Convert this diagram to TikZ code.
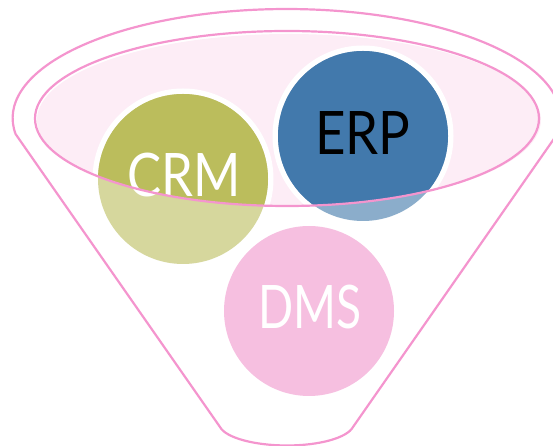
\documentclass[tikz,border=0pt]{standalone}
\usepackage{fontspec}
\setmainfont{Lato}
\definecolor{funnelline}{HTML}{F495CE}
\definecolor{funnelfill}{HTML}{FDEDF6}
\definecolor{crmdark}{HTML}{BBBD5C}
\definecolor{crmlight}{HTML}{D6D79D}
\definecolor{erpdark}{HTML}{4279AC}
\definecolor{erplight}{HTML}{8BADCB}
\definecolor{dmsfill}{HTML}{F6BFE0}
\tikzset{
  funnelstroke/.style={draw=funnelline,line width=2.2pt,line join=round},
  disc/.style={circle,inner sep=0pt,minimum size=170pt},
  halo/.style={circle,inner sep=0pt,minimum size=181pt,fill=white},
  lab/.style={anchor=base,inner sep=0pt,font=\fontsize{60}{60}\selectfont},
}
\begin{document}
\begin{tikzpicture}[x=1pt,y=1pt]
\useasboundingbox (0,0) rectangle (553,446);
\clip (0,0) rectangle (553,446);
% funnel body
\draw[funnelstroke] (353,19) -- (558,313)
  arc[start angle=-7.9,end angle=188.5,x radius=274pt,y radius=109pt]
  -- (220,19) .. controls (226,8) and (255,0.5) .. (287,0.5)
  .. controls (319,0.5) and (347,8) .. (353,19);
% funnel mouth fill
\fill[funnelfill] (289,326) ellipse [x radius=252pt,y radius=86pt];
% halos
\node[halo] at (183,267) {};
\node[halo] at (363,310) {};
% discs
\node[disc,fill=crmlight] (crmdisc) at (183,267) {};
\node[disc,fill=erplight] (erpdisc) at (363,310) {};
\node[disc,fill=dmsfill] (dmsdisc) at (309,135) {};
\begin{scope}
\clip (287,327.5) ellipse [x radius=252pt,y radius=87.5pt];
\fill[crmdark] (183,267) circle [radius=85pt];
\fill[erpdark] (363,310) circle [radius=85pt];
\end{scope}
% labels
\node[lab,text=white] (crm) at (184,249) {\scalebox{.85}[1]{CRM}};
\node[lab,text=black] (erp) at (363,291) {\scalebox{.88}[1]{ERP}};
\node[lab,text=white] (dms) at (310,117) {\scalebox{.77}[1]{DMS}};
% mouth outline
\draw[funnelstroke] (287,327.5) ellipse [x radius=252pt,y radius=87.5pt];
\end{tikzpicture}
\end{document}
